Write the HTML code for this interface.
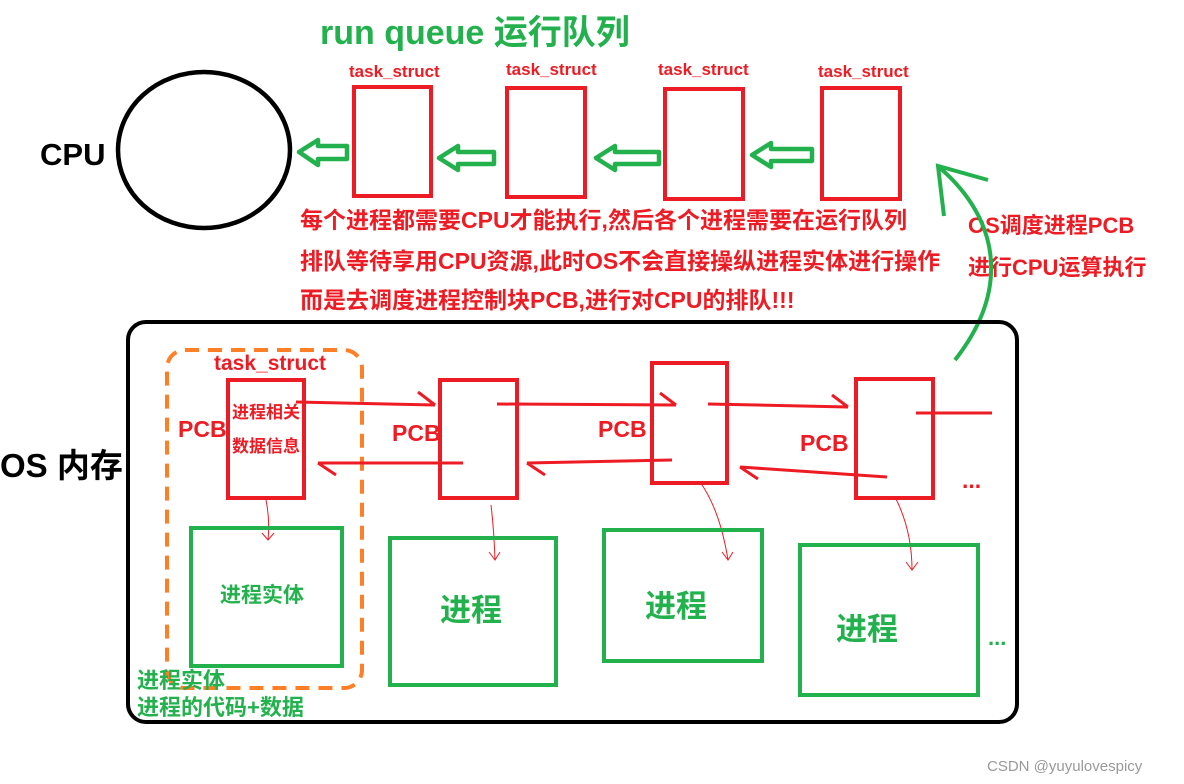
<!DOCTYPE html>
<html><head><meta charset="utf-8"><style>
html,body{margin:0;padding:0;background:#fff;width:1184px;height:784px;overflow:hidden}
svg{display:block}
text{font-family:"Liberation Sans","Noto Sans CJK SC",sans-serif;font-weight:bold}
</style></head><body>
<svg width="1184" height="784" viewBox="0 0 1184 784" xmlns="http://www.w3.org/2000/svg">
<text x="320" y="44" font-size="34" fill="#22b14c">run queue 运行队列</text>
<text x="40" y="165" font-size="31" fill="#000">CPU</text>
<ellipse cx="204" cy="150" rx="86" ry="78" fill="none" stroke="#000" stroke-width="4.5"/>
<g fill="none" stroke="#ed1c24" stroke-width="4">
<rect x="354" y="87" width="77" height="109"/>
<rect x="507" y="88" width="78" height="109"/>
<rect x="665" y="89" width="78" height="110"/>
<rect x="822" y="88" width="78" height="111"/>
</g>
<g font-size="17" fill="#ed1c24">
<text x="349" y="77">task_struct</text>
<text x="506" y="75">task_struct</text>
<text x="658" y="75">task_struct</text>
<text x="818" y="77">task_struct</text>
</g>
<g fill="none" stroke="#22b14c" stroke-width="4.5" stroke-linejoin="round">
<path d="M299 152 L318 140 L318 146 L347 146 L347 159 L318 159 L318 165 Z"/>
<path d="M439 158 L458 146 L458 152 L494 152 L494 164 L458 164 L458 170 Z"/>
<path d="M596 158 L615 146 L615 152 L659 152 L659 164 L615 164 L615 170 Z"/>
<path d="M752 155 L771 143 L771 149 L812 149 L812 161 L771 161 L771 167 Z"/>
</g>
<g font-size="23" fill="#ed1c24">
<text x="300" y="228">每个进程都需要CPU才能执行,然后各个进程需要在运行队列</text>
<text x="300" y="269">排队等待享用CPU资源,此时OS不会直接操纵进程实体进行操作</text>
<text x="300" y="308">而是去调度进程控制块PCB,进行对CPU的排队!!!</text>
</g>
<g font-size="22" fill="#ed1c24">
<text x="968" y="233">OS调度进程PCB</text>
<text x="968" y="275">进行CPU运算执行</text>
</g>
<path d="M955 360 C1010 290 1000 220 940 168" fill="none" stroke="#22b14c" stroke-width="4"/>
<path d="M988 180 L938 166 L944 216" fill="none" stroke="#22b14c" stroke-width="4"/>
<rect x="128" y="322" width="889" height="400" rx="18" fill="none" stroke="#000" stroke-width="4"/>
<rect x="167" y="350" width="195" height="338" rx="18" fill="none" stroke="#ff7f27" stroke-width="4" stroke-dasharray="14 9"/>
<text x="0" y="477" font-size="33" fill="#000">OS 内存</text>
<text x="214" y="370" font-size="21" fill="#ed1c24">task_struct</text>
<g fill="none" stroke="#ed1c24" stroke-width="4">
<rect x="228" y="380" width="76" height="118"/>
<rect x="440" y="380" width="77" height="118"/>
<rect x="652" y="363" width="75" height="120"/>
<rect x="856" y="379" width="77" height="119"/>
</g>
<g font-size="17" fill="#ed1c24">
<text x="232" y="418">进程相关</text>
<text x="232" y="452">数据信息</text>
</g>
<g font-size="23" fill="#ed1c24">
<text x="178" y="437">PCB</text>
<text x="392" y="441">PCB</text>
<text x="598" y="437">PCB</text>
<text x="800" y="451">PCB</text>
<text x="962" y="488">...</text>
</g>
<g fill="none" stroke="#ed1c24" stroke-width="3">
<path d="M296 402 L435 405 M418 392 L435 405"/>
<path d="M463 463 L318 463 M336 475 L318 463"/>
<path d="M497 404 L676 405 M660 393 L676 405"/>
<path d="M672 460 L527 463 M545 475 L527 463"/>
<path d="M708 404 L848 407 M832 395 L848 407"/>
<path d="M887 477 L740 467 M758 479 L740 467"/>
<path d="M916 413 L992 413"/>
</g>
<g fill="none" stroke="#ed1c24" stroke-width="1">
<path d="M266 500 Q270 520 268 540 M262 533 L268 540 L274 533"/>
<path d="M491 505 Q494 530 495 560 M489 552 L495 560 L500 552"/>
<path d="M700 482 Q720 510 728 560 M722 552 L728 560 L733 552"/>
<path d="M895 497 Q912 530 912 570 M906 562 L912 570 L918 562"/>
</g>
<g fill="none" stroke="#22b14c" stroke-width="4">
<rect x="191" y="528" width="151" height="138"/>
<rect x="390" y="538" width="166" height="147"/>
<rect x="604" y="530" width="158" height="131"/>
<rect x="800" y="545" width="178" height="150"/>
</g>
<g fill="#22b14c">
<text x="220" y="602" font-size="21">进程实体</text>
<text x="440" y="621" font-size="31">进程</text>
<text x="645" y="617" font-size="31">进程</text>
<text x="836" y="640" font-size="31">进程</text>
<text x="988" y="645" font-size="22">...</text>
<text x="137" y="688" font-size="22">进程实体</text>
<text x="137" y="715" font-size="22">进程的代码+数据</text>
</g>
<text x="987" y="771" font-size="15" fill="#999" style="font-weight:normal">CSDN @yuyulovespicy</text>
</svg>
</body></html>
